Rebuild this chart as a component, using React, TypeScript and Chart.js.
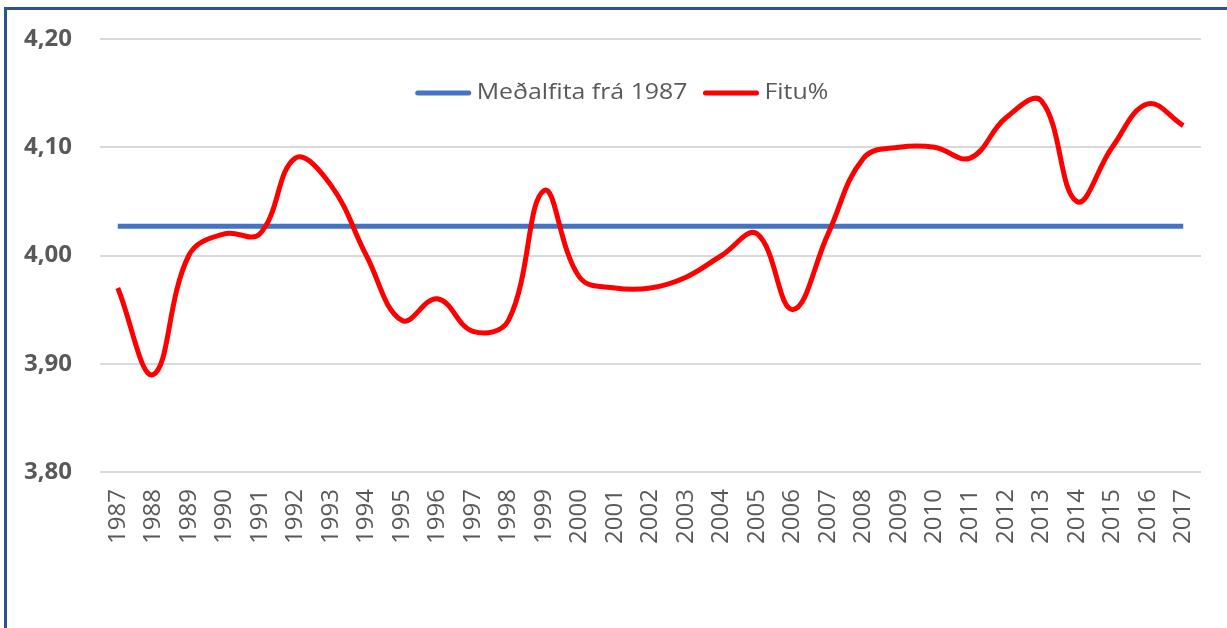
import React, { useEffect, useRef } from "react";
import { Chart, registerables } from "chart.js";

Chart.register(...registerables);

const years = [
  "1987", "1988", "1989", "1990", "1991", "1992", "1993", "1994", "1995", "1996",
  "1997", "1998", "1999", "2000", "2001", "2002", "2003", "2004", "2005", "2006",
  "2007", "2008", "2009", "2010", "2011", "2012", "2013", "2014", "2015", "2016", "2017",
];

const fatPercent = [
  3.97, 3.89, 4.0, 4.02, 4.02, 4.09, 4.065, 4.0, 3.94, 3.96,
  3.93, 3.94, 4.06, 3.98, 3.97, 3.97, 3.98, 4.0, 4.02, 3.95,
  4.02, 4.09, 4.1, 4.1, 4.09, 4.127, 4.143, 4.05, 4.1, 4.14, 4.12,
];

const meanSince1987 = [
  4.027, 4.027, 4.027, 4.027, 4.027, 4.027, 4.027, 4.027, 4.027, 4.027,
  4.027, 4.027, 4.027, 4.027, 4.027, 4.027, 4.027, 4.027, 4.027, 4.027,
  4.027, 4.027, 4.027, 4.027, 4.027, 4.027, 4.027, 4.027, 4.027, 4.027, 4.027,
];

const seriesNames = ["Meðalfita frá 1987", "Fitu%"];
const yMin = 3.8;
const yMax = 4.2;
const yStep = 0.1;

const BLUE = "#4472C4";
const RED = "#FF0000";
const TEXT = "#595959";

const legendPlugin = {
  id: "insideLegend",
  afterDraw(chart: any) {
    const ctx = chart.ctx;
    const ds = chart.data.datasets;
    ctx.save();
    ctx.font = '22px "Open Sans"';
    ctx.textBaseline = "middle";
    ctx.textAlign = "left";
    // reference text is drawn slightly wider than the font's natural proportions
    const sx = 1.13;
    const sw = 55;
    const gapAfterSwatch = 6;
    const gapBetween = 16;
    const widths = ds.map((d: any) => ctx.measureText(d.label).width * sx);
    let total = 0;
    widths.forEach((w: number, i: number) => {
      total += sw + gapAfterSwatch + w + (i < widths.length - 1 ? gapBetween : 0);
    });
    const cx = 622;
    const y = 93;
    let x = cx - total / 2;
    ds.forEach((d: any, i: number) => {
      ctx.strokeStyle = d.borderColor;
      ctx.lineWidth = 5;
      ctx.lineCap = "round";
      ctx.beginPath();
      ctx.moveTo(x + 2, y);
      ctx.lineTo(x + sw - 2, y);
      ctx.stroke();
      x += sw + gapAfterSwatch;
      ctx.save();
      ctx.translate(x, y);
      ctx.scale(sx, 1);
      ctx.fillStyle = TEXT;
      ctx.fillText(d.label, 0, 0);
      ctx.restore();
      x += widths[i] + gapBetween;
    });
    ctx.restore();
  },
};

export default function App() {
  const canvasRef = useRef<HTMLCanvasElement | null>(null);

  useEffect(() => {
    if (!canvasRef.current) return;
    const chart = new Chart(canvasRef.current, {
      type: "line",
      data: {
        labels: years,
        datasets: [
          {
            label: seriesNames[0],
            data: meanSince1987,
            borderColor: BLUE,
            backgroundColor: BLUE,
            borderWidth: 5,
            pointRadius: 0,
            tension: 0,
            order: 1,
          },
          {
            label: seriesNames[1],
            data: fatPercent,
            borderColor: RED,
            backgroundColor: RED,
            borderWidth: 5,
            pointRadius: 0,
            tension: 0.4,
            cubicInterpolationMode: "default",
            order: 0,
          },
        ],
      },
      options: {
        responsive: false,
        animation: false,
        layout: { padding: { top: 39, right: 26, left: 0, bottom: 0 } },
        plugins: {
          legend: { display: false },
          tooltip: { enabled: false },
        },
        scales: {
          x: {
            offset: true,
            grid: { display: false, drawTicks: false },
            border: { display: false },
            ticks: {
              autoSkip: false,
              maxRotation: 90,
              minRotation: 90,
              padding: 17,
              color: TEXT,
              font: { family: "Open Sans", size: 24 },
            },
            afterFit(scale: any) {
              scale.height = 156;
              scale.paddingLeft = 0;
              scale.paddingRight = 0;
            },
          },
          y: {
            min: yMin,
            max: yMax,
            grid: { color: "#D9D9D9", lineWidth: 2, drawTicks: false },
            border: { display: false },
            ticks: {
              stepSize: yStep,
              padding: 28,
              color: TEXT,
              font: { family: "Open Sans", size: 24, weight: "bold" },
              callback: (v: any) => Number(v).toFixed(2).replace(".", ","),
            },
            afterFit(scale: any) {
              scale.width = 100;
              scale.paddingTop = 0;
              scale.paddingBottom = 0;
            },
          },
        },
      },
      plugins: [legendPlugin],
    });
    return () => chart.destroy();
  }, []);

  return (
    <div
      style={{
        position: "fixed",
        left: 0,
        top: 0,
        width: 1227,
        height: 628,
        background: "#FFFFFF",
        overflow: "hidden",
      }}
    >
      <canvas ref={canvasRef} width={1227} height={628} style={{ position: "absolute", left: 0, top: 0 }} />
      <div
        style={{
          position: "absolute",
          left: 4,
          top: 7,
          width: 1240,
          height: 640,
          border: "3px solid #2B5491",
          pointerEvents: "none",
        }}
      />
    </div>
  );
}
